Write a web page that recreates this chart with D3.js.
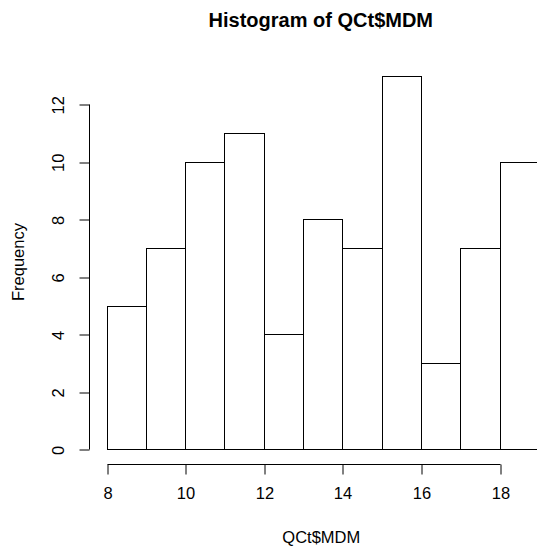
<!DOCTYPE html>
<html>
<head>
<meta charset="utf-8">
<script src="https://cdn.jsdelivr.net/npm/d3@7"></script>
<style>
  html, body { margin: 0; padding: 0; background: #fff; }
  svg { display: block; font-family: "Liberation Sans", Arial, sans-serif; }
</style>
</head>
<body>
<svg id="chart" width="537" height="552"></svg>
<script>
// Histogram bins (left edges, width 1) and their counts
const binStarts = [8, 9, 10, 11, 12, 13, 14, 15, 16, 17, 18];
const counts    = [5, 7, 10, 11, 4, 8, 7, 13, 3, 7, 10];
const xTicks = [8, 10, 12, 14, 16, 18];
const yTicks = [0, 2, 4, 6, 8, 10, 12];
const binWidth = 1;

const svg = d3.select("#chart");

// Plot region follows R's 4% axis padding around the data range
const xMin = 8, xMax = 19, yMax = 13;
const xPad = (xMax - xMin) * 0.04, yPad = yMax * 0.04;
const x = d3.scaleLinear().domain([xMin - xPad, xMax + xPad]).range([89.2, 89.2 + (xMax - xMin + 2 * xPad) * 39.33]);
const y = d3.scaleLinear().domain([-yPad, yMax + yPad]).range([464.3, 464.3 - (yMax + 2 * yPad) * 28.75]);
const plotCenterX = (x.range()[0] + x.range()[1]) / 2;

const crisp = v => Math.round(v) + 0.5;

// Bars
svg.append("g")
  .selectAll("rect")
  .data(binStarts.map((b, i) => ({ x0: b, x1: b + binWidth, n: counts[i] })))
  .join("rect")
  .attr("x", d => crisp(x(d.x0)))
  .attr("y", d => crisp(y(d.n)))
  .attr("width", d => Math.round(x(d.x1)) - Math.round(x(d.x0)))
  .attr("height", d => Math.round(y(0)) - Math.round(y(d.n)))
  .attr("fill", "none")
  .attr("stroke", "#000")
  .attr("stroke-width", 1);

// X axis (spans first to last labelled tick, like R's axis)
const xAxisY = crisp(y(-yPad));
const gx = svg.append("g").attr("transform", `translate(0.5,${xAxisY})`);
gx.call(d3.axisBottom(x).tickValues(xTicks).tickFormat(d3.format("d")).tickSize(10).tickPadding(13).tickSizeOuter(0));
gx.select(".domain").attr("d", `M${Math.round(x(xTicks[0]))},0H${Math.round(x(xTicks[xTicks.length - 1]))}`);
gx.selectAll("line").attr("transform", d => `translate(${Math.round(x(d)) - x(d)},0)`);
gx.selectAll("text").attr("font-size", "16.5px").attr("fill", "#000")
  .attr("transform", d => `translate(${Math.round(x(d)) - x(d)},0)`);

// Y axis with rotated tick labels
const yAxisX = crisp(x(xMin - xPad));
const gy = svg.append("g").attr("transform", `translate(${yAxisX},0.5)`);
gy.call(d3.axisLeft(y).tickValues(yTicks).tickFormat(d3.format("d")).tickSize(10).tickSizeOuter(0));
gy.select(".domain").attr("d", `M0,${Math.round(y(yTicks[0]))}V${Math.round(y(yTicks[yTicks.length - 1]))}`);
gy.selectAll(".tick line").attr("transform", d => `translate(0,${Math.round(y(d)) - y(d)})`);
gy.selectAll("text")
  .attr("font-size", "16.5px").attr("fill", "#000")
  .attr("x", null).attr("dy", null)
  .attr("text-anchor", "middle")
  .attr("transform", "translate(-31,0) rotate(-90)")
  .attr("dy", "0.35em");
svg.selectAll(".domain, .tick line").attr("stroke", "#000");

// Titles, centred on the plot region
svg.append("text")
  .attr("x", plotCenterX - 2).attr("y", 27)
  .attr("text-anchor", "middle")
  .attr("font-size", "20px").attr("font-weight", "bold")
  .text("Histogram of QCt$MDM");

svg.append("text")
  .attr("x", plotCenterX - 1.5).attr("y", 543)
  .attr("text-anchor", "middle")
  .attr("font-size", "16.5px")
  .text("QCt$MDM");

svg.append("text")
  .attr("transform", "translate(24,262) rotate(-90)")
  .attr("text-anchor", "middle")
  .attr("font-size", "16.5px")
  .text("Frequency");
</script>
</body>
</html>
